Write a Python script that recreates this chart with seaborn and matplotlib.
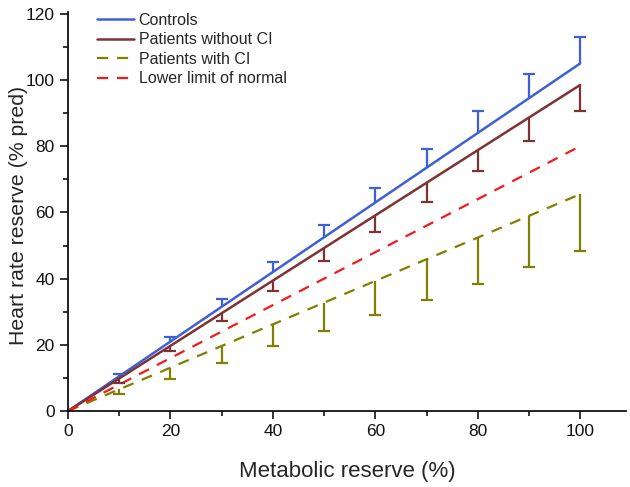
import matplotlib.pyplot as plt
import pandas as pd
import seaborn as sns
from matplotlib.ticker import MultipleLocator

sns.set_style("ticks")
plt.rcParams['font.family'] = ['Liberation Sans', 'DejaVu Sans']

# metabolic reserve (%)
x = [0, 10, 20, 30, 40, 50, 60, 70, 80, 90, 100]

# heart rate reserve (% pred), group means
controls = [0, 10.5, 21, 31.5, 42, 52.5, 63, 73.5, 84, 94.5, 105]
no_ci = [0, 9.85, 19.7, 29.55, 39.4, 49.25, 59.1, 68.95, 78.8, 88.65, 98.5]
with_ci = [0, 6.55, 13.1, 19.65, 26.2, 32.75, 39.3, 45.85, 52.4, 58.95, 65.5]
lln = [0, 8, 16, 24, 32, 40, 48, 56, 64, 72, 80]

# one-sided error bar ends (controls up, patients down)
controls_hi = [0, 11.3, 22.5, 33.8, 45, 56.3, 67.5, 79.2, 90.5, 101.8, 113]
no_ci_lo = [0, 8.5, 18, 27.2, 36.2, 45.2, 54.2, 63.2, 72.5, 81.7, 90.6]
with_ci_lo = [0, 5, 9.8, 14.6, 19.5, 24.2, 29, 33.6, 38.5, 43.4, 48.4]

c_blue = '#3f5fd6'
c_brown = '#7e3232'
c_olive = '#7f7f00'
c_red = '#f51a1a'

df = pd.DataFrame({'x': x, 'Controls': controls, 'Patients without CI': no_ci,
                   'Patients with CI': with_ci, 'Lower limit of normal': lln})

fig, ax = plt.subplots(figsize=(6.3, 4.87), dpi=100)
fig.subplots_adjust(left=0.108, right=0.994, bottom=0.156, top=0.975)

sns.lineplot(data=df, x='x', y='Controls', color=c_blue, lw=1.8, label='Controls', ax=ax)
sns.lineplot(data=df, x='x', y='Patients without CI', color=c_brown, lw=1.8,
             label='Patients without CI', ax=ax)
sns.lineplot(data=df, x='x', y='Patients with CI', color=c_olive, lw=1.6,
             label='Patients with CI', ax=ax)
sns.lineplot(data=df, x='x', y='Lower limit of normal', color=c_red, lw=1.6,
             label='Lower limit of normal', ax=ax)
ax.lines[2].set_linestyle((0, (5, 4)))
ax.lines[3].set_linestyle((0, (5, 4)))

xs = x[1:]
zeros = [0] * len(xs)
eb = ax.errorbar(xs, controls[1:], yerr=[zeros, [h - m for h, m in zip(controls_hi[1:], controls[1:])]],
                 fmt='none', ecolor=c_blue, elinewidth=1.6, capsize=4, capthick=1.6)
eb[1][0].set_visible(False)
eb = ax.errorbar(xs, no_ci[1:], yerr=[[m - l for m, l in zip(no_ci[1:], no_ci_lo[1:])], zeros],
                 fmt='none', ecolor=c_brown, elinewidth=1.6, capsize=4, capthick=1.6)
eb[1][1].set_visible(False)
eb = ax.errorbar(xs, with_ci[1:], yerr=[[m - l for m, l in zip(with_ci[1:], with_ci_lo[1:])], zeros],
                 fmt='none', ecolor=c_olive, elinewidth=1.6, capsize=4, capthick=1.6)
eb[1][1].set_visible(False)

ax.set_xlim(0, 109)
ax.set_ylim(0, 120.5)
ax.xaxis.set_major_locator(MultipleLocator(20))
ax.xaxis.set_minor_locator(MultipleLocator(10))
ax.yaxis.set_major_locator(MultipleLocator(20))
ax.yaxis.set_minor_locator(MultipleLocator(10))
ax.tick_params(which='major', length=6, width=1.2, labelsize=12.5, direction='out', colors='#111111')
ax.tick_params(which='minor', length=3.5, width=1.2, direction='out', colors='#111111')
for side in ['top', 'right']:
    ax.spines[side].set_visible(False)
for side in ['left', 'bottom']:
    ax.spines[side].set_linewidth(1.3)
    ax.spines[side].set_color('#111111')

ax.set_xlabel('Metabolic reserve (%)', fontsize=16, labelpad=16)
ax.set_ylabel('Heart rate reserve (% pred)', fontsize=15.3)
ax.yaxis.set_label_coords(-0.072, 0.49)

ax.legend(loc='upper left', bbox_to_anchor=(0.035, 1.023), frameon=False, fontsize=11.5,
          handlelength=2.3, handletextpad=0.3, labelspacing=0.29, borderaxespad=0.2)

plt.savefig('out.png', dpi=100)
